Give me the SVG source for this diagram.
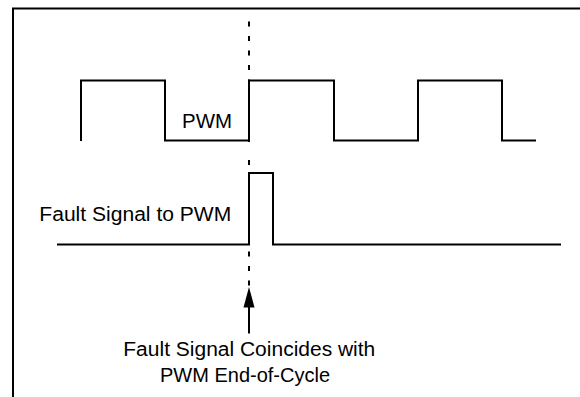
<svg xmlns="http://www.w3.org/2000/svg" width="580" height="397" viewBox="0 0 580 397">
<defs>
<style>
.ln{fill:none;stroke:#000;stroke-width:2}
.dash{fill:none;stroke:#000;stroke-width:2;stroke-dasharray:5 9.5}
.t{font-family:"Liberation Sans",Arial,Helvetica,sans-serif;font-size:20px;fill:#000}
</style>
<marker id="ah" markerWidth="12" markerHeight="22" refX="6" refY="1" orient="auto" markerUnits="userSpaceOnUse" viewBox="0 0 12 22">
<path d="M6,0 L11.5,21 L0.5,21 Z" fill="#000"/>
</marker>
</defs>
<rect width="580" height="397" fill="#fff"/>
<g id="frame">
<path class="ln" d="M13,397 V8.5 H580"/>
</g>
<g id="connectors">
<path class="dash" d="M249,21.5 V84 M249,137 V142 M249,160 V165 M249,251.5 V287"/>
<path d="M249,287 L254.5,307.5 L243.5,307.5 Z" fill="#000"/>
<path class="ln" d="M249,306 V333.5"/>
</g>
<g id="pwm">
<path class="ln" d="M81,141 V80.5 H165 V140.5 H249 V80.5 H334 V140.5 H418 V80.5 H502 V140.5 H536"/>
<text class="t" x="182" y="128.3" textLength="50" lengthAdjust="spacingAndGlyphs">PWM</text>
</g>
<g id="fault">
<path class="ln" d="M57,244.5 H249 V173 H273 V244.5 H561"/>
<text class="t" x="39.3" y="221" textLength="192" lengthAdjust="spacingAndGlyphs">Fault Signal to PWM</text>
</g>
<g id="note">
<text class="t" x="123.3" y="356" textLength="252" lengthAdjust="spacingAndGlyphs">Fault Signal Coincides with</text>
<text class="t" x="160" y="381.7" textLength="170" lengthAdjust="spacingAndGlyphs">PWM End-of-Cycle</text>
</g>
</svg>
